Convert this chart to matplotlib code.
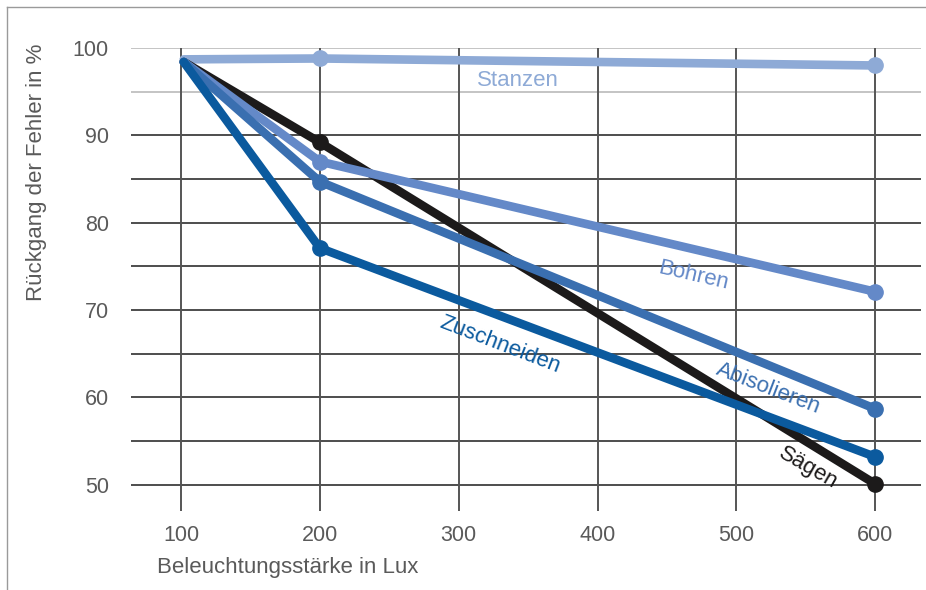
import matplotlib
matplotlib.use("Agg")
import matplotlib.pyplot as plt
from matplotlib.lines import Line2D

plt.rcParams['font.family'] = ['Liberation Sans', 'DejaVu Sans']

# Data
lux = [102, 200, 600]
stanzen = [98.7, 98.8, 98.0]
bohren = [98.4, 87.0, 72.1]
abisolieren = [98.4, 84.7, 58.7]
zuschneiden = [98.4, 77.1, 53.2]
saegen = [98.4, 89.2, 50.1]

series_names = ["Stanzen", "Bohren", "Abisolieren", "Zuschneiden", "Sägen"]
series_values = [stanzen, bohren, abisolieren, zuschneiden, saegen]
colors = ["#8eaad6", "#6489c8", "#3a6fb0", "#0b5a9e", "#1c1a1a"]

x_ticks = [100, 200, 300, 400, 500, 600]
y_ticks = [50, 60, 70, 80, 90, 100]
h_grid = [50, 55, 60, 65, 70, 75, 80, 85, 90, 95, 100]

# label placements (data coords) and rotations
label_pos = [(343, 96.3), (469, 73.9), (523, 61.0), (330, 66.0), (552, 51.9)]
label_rot = [0, -13, -21, -21, -30]

W, H = 926, 590
fig = plt.figure(figsize=(W / 100, H / 100), dpi=100)
ax = fig.add_axes([131 / W, 1 - 511 / H, 790 / W, 463 / H])
ax.set_xlim(64, 633)
ax.set_ylim(47, 100)
for s in ax.spines.values():
    s.set_visible(False)
ax.tick_params(length=0, labelsize=15.5, labelcolor="#5a5a5a")
ax.set_xticks(x_ticks)
ax.set_yticks(y_ticks)
ax.tick_params(axis='x', pad=10)
ax.tick_params(axis='y', pad=16)

for yv in h_grid:
    c = "#c4c4c4" if yv >= 95 else "#4d4d4d"
    ax.axhline(yv, color=c, lw=1.4, zorder=1)
for xv in x_ticks:
    ax.axvline(xv, color="#555555", lw=1.4, zorder=1)

order = [0, 4, 1, 2, 3]
for i in order:
    ax.plot(lux, series_values[i], color=colors[i], lw=6.2, solid_capstyle='round',
            solid_joinstyle='round', marker='o', ms=11, markevery=[1, 2],
            zorder=3, clip_on=False)

for name, (lx, ly), rot, c in zip(series_names, label_pos, label_rot, colors):
    ax.text(lx, ly, name, color=c, fontsize=16, rotation=rot,
            rotation_mode='anchor', ha='center', va='center', zorder=4)

fig.text(37 / W, 1 - 172 / H, "Rückgang der Fehler in %", rotation=90,
         ha='center', va='center', fontsize=16, color="#5a5a5a")
fig.text(157 / W, 1 - 567 / H, "Beleuchtungsstärke in Lux", ha='left',
         va='center', fontsize=16, color="#5a5a5a")

# outer frame (left and top edges)
fig.add_artist(Line2D([7 / W, 7 / W], [0, 1 - 7 / H], transform=fig.transFigure,
                      color="#9a9a9a", lw=1))
fig.add_artist(Line2D([7 / W, 1], [1 - 7 / H, 1 - 7 / H], transform=fig.transFigure,
                      color="#9a9a9a", lw=1))

fig.savefig("out.png", dpi=100)
